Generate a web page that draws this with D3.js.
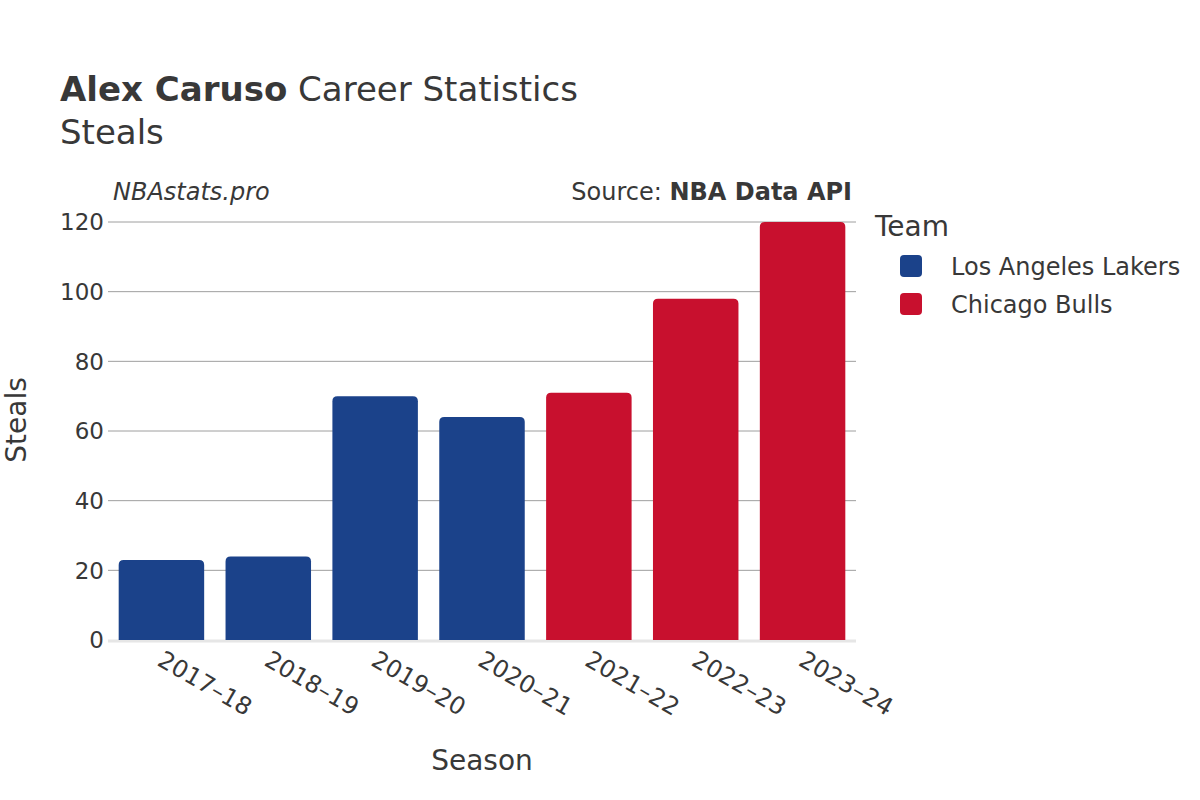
<!DOCTYPE html>
<html>
<head>
<meta charset="utf-8">
<script src="https://cdn.jsdelivr.net/npm/d3@7"></script>
<style>
  body { margin: 0; background: #fff; }
  text { font-family: "DejaVu Sans", sans-serif; fill: #383838; }
</style>
</head>
<body>
<svg id="chart" width="1200" height="800"></svg>
<script>
var seasons = ["2017–18", "2018–19", "2019–20", "2020–21", "2021–22", "2022–23", "2023–24"];
var steals = [23, 24, 70, 64, 71, 98, 120];
var teams = ["Los Angeles Lakers", "Los Angeles Lakers", "Los Angeles Lakers", "Los Angeles Lakers", "Chicago Bulls", "Chicago Bulls", "Chicago Bulls"];
var teamNames = ["Los Angeles Lakers", "Chicago Bulls"];
var teamColors = ["#1b428a", "#c8102e"];
var yTicks = [0, 20, 40, 60, 80, 100, 120];

var LEFT = 108, RIGHT = 856, TOP = 222, BOTTOM = 640;

var svg = d3.select("#chart");

var x = d3.scaleBand().domain(seasons).range([LEFT, RIGHT]).paddingInner(0.2).paddingOuter(0.1);
var y = d3.scaleLinear().domain([0, 120]).range([BOTTOM, TOP]);
var color = d3.scaleOrdinal().domain(teamNames).range(teamColors);

// grid
svg.append("g").selectAll("line").data(yTicks.filter(function(d){return d > 0;}))
    .enter().append("line")
    .attr("x1", LEFT).attr("x2", RIGHT)
    .attr("y1", function(d){return y(d);}).attr("y2", function(d){return y(d);})
    .attr("stroke", "#9e9e9e").attr("stroke-width", 1);

// zero line
svg.append("line")
    .attr("x1", LEFT).attr("x2", RIGHT)
    .attr("y1", y(0) + 1).attr("y2", y(0) + 1)
    .attr("stroke", "#e6e6e6").attr("stroke-width", 3);

// bars, rounded top
var r = 5;
svg.append("g").selectAll("path").data(seasons)
    .enter().append("path")
    .attr("fill", function(d, i){return color(teams[i]);})
    .attr("d", function(d, i){
        var x0 = x(d), w = x.bandwidth(), y0 = y(steals[i]), yb = y(0);
        return "M" + x0 + "," + yb +
            "V" + (y0 + r) +
            "Q" + x0 + "," + y0 + " " + (x0 + r) + "," + y0 +
            "H" + (x0 + w - r) +
            "Q" + (x0 + w) + "," + y0 + " " + (x0 + w) + "," + (y0 + r) +
            "V" + yb + "Z";
    });

// y axis labels
svg.append("g").selectAll("text").data(yTicks)
    .enter().append("text")
    .attr("x", LEFT - 4).attr("y", function(d){return y(d);})
    .attr("dy", "0.36em")
    .attr("text-anchor", "end")
    .style("font-size", "23px")
    .text(function(d){return d;});

// x axis labels
svg.append("g").selectAll("text").data(seasons)
    .enter().append("text")
    .attr("transform", function(d){
        return "translate(" + (x(d) + x.bandwidth() / 2 + 3) + "," + (BOTTOM + 10) + ") rotate(30)";
    })
    .attr("dy", "0.7em")
    .style("font-size", "24px")
    .text(function(d){return d;});

// axis titles
svg.append("text")
    .attr("x", (LEFT + RIGHT) / 2).attr("y", 770)
    .attr("text-anchor", "middle")
    .style("font-size", "28px")
    .text("Season");
svg.append("text")
    .attr("transform", "translate(26,420) rotate(-90)")
    .attr("text-anchor", "middle")
    .style("font-size", "28px")
    .text("Steals");

// title
var title = svg.append("text").attr("x", 60).attr("y", 101).style("font-size", "34px");
title.append("tspan").style("font-weight", "bold").text("Alex Caruso");
title.append("tspan").text(" Career Statistics");
svg.append("text").attr("x", 60).attr("y", 144).style("font-size", "34px").text("Steals");

// annotations
svg.append("text")
    .attr("x", 113).attr("y", 200)
    .style("font-size", "24px").style("font-style", "italic")
    .text("NBAstats.pro");
var src = svg.append("text")
    .attr("x", 852).attr("y", 200)
    .attr("text-anchor", "end")
    .style("font-size", "24px");
src.append("tspan").text("Source: ");
src.append("tspan").style("font-weight", "bold").text("NBA Data API");

// legend
svg.append("text").attr("x", 875).attr("y", 236).style("font-size", "28px").text("Team");
var leg = svg.append("g").selectAll("g").data(teamNames)
    .enter().append("g")
    .attr("transform", function(d, i){return "translate(900," + (266 + i * 38) + ")";});
leg.append("rect")
    .attr("x", 0).attr("y", -11).attr("width", 22).attr("height", 22).attr("rx", 4)
    .attr("fill", function(d){return color(d);});
leg.append("text")
    .attr("x", 51).attr("dy", "0.36em")
    .style("font-size", "24px")
    .text(function(d){return d;});
</script>
</body>
</html>
